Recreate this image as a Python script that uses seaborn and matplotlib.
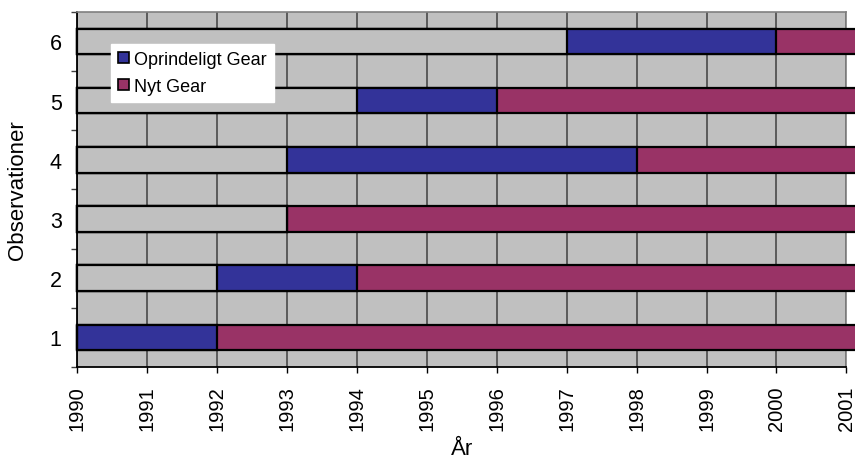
import matplotlib
matplotlib.use("Agg")
import matplotlib.pyplot as plt
import matplotlib.ticker as mticker
from matplotlib.patches import Patch
import seaborn as sns
import pandas as pd

# data
observations = ["1", "2", "3", "4", "5", "6"]
start_year = [1990, 1992, 1993, 1993, 1994, 1997]   # first year observed
gear_change = [1992, 1994, 1993, 1998, 1996, 2000]  # original gear replaced
end_year = [2002, 2002, 2002, 2002, 2002, 2002]     # runs off the right edge
year_ticks = list(range(1990, 2002))

BASE = 1990
BLUE = "#333399"
PURPLE = "#993366"
GREY = "#C0C0C0"

df = pd.DataFrame({
    "obs": observations,
    "start": [s - BASE for s in start_year],
    "change": [c - BASE for c in gear_change],
    "end": [e - BASE for e in end_year],
})

sns.set_theme(style="white")
plt.rcParams["font.family"] = ["Liberation Sans", "DejaVu Sans"]
plt.rcParams["text.color"] = "black"
plt.rcParams["axes.labelcolor"] = "black"
plt.rcParams["xtick.color"] = "black"
plt.rcParams["ytick.color"] = "black"

fig, ax = plt.subplots(figsize=(8.55, 4.6), dpi=100)
fig.subplots_adjust(left=0.09, right=0.99, top=0.972, bottom=0.2)
ax.set_facecolor(GREY)

order = observations[::-1]
bar_kw = dict(orient="h", order=order, width=0.43, edgecolor="black",
              linewidth=1.6, ax=ax, zorder=3)
# layer: new gear to the end, original gear on top, empty lead-in on top of that
sns.barplot(data=df, x="end", y="obs", color=PURPLE, saturation=1, **bar_kw)
sns.barplot(data=df, x="change", y="obs", color=BLUE, saturation=1, **bar_kw)
sns.barplot(data=df, x="start", y="obs", color=GREY, saturation=1, **bar_kw)
for p in ax.patches:
    p.set_clip_on(False)

ax.set_xlim(0, year_ticks[-1] - BASE)
ax.set_ylim(len(order) - 0.5, -0.5)

# x: years, vertical labels
ax.set_xticks([y - BASE for y in year_ticks])
ax.set_xticklabels([str(y) for y in year_ticks], rotation=90, fontsize=14.5)
ax.tick_params(axis="x", which="major", direction="out", length=4, width=1,
               color="black", pad=9, bottom=True)
ax.xaxis.grid(True, color="#404040", linewidth=1.1, zorder=1)
ax.set_axisbelow(True)

# y: ticks on category boundaries, labels centred
ax.yaxis.set_major_locator(mticker.FixedLocator([i + 0.5 for i in range(-1, len(order))]))
ax.yaxis.set_major_formatter(mticker.NullFormatter())
ax.yaxis.set_minor_locator(mticker.FixedLocator(range(len(order))))
ax.yaxis.set_minor_formatter(mticker.FixedFormatter(order))
ax.tick_params(axis="y", which="major", direction="out", length=4.5, width=1,
               color="#404040", left=True)
ax.tick_params(axis="y", which="minor", length=0, pad=11, labelsize=15.5)

for side in ["top", "right"]:
    ax.spines[side].set_color("#808080")
    ax.spines[side].set_linewidth(1.2)
for side in ["left", "bottom"]:
    ax.spines[side].set_color("black")
    ax.spines[side].set_linewidth(1.3)

ax.set_xlabel("År", fontsize=16)
ax.xaxis.set_label_coords(0.5, -0.2)
ax.set_ylabel("Observationer", fontsize=16)
ax.yaxis.set_label_coords(-0.063, 0.5)

handles = [Patch(facecolor=BLUE, edgecolor="black", linewidth=1.2, label="Oprindeligt Gear"),
           Patch(facecolor=PURPLE, edgecolor="black", linewidth=1.2, label="Nyt Gear")]
leg = ax.legend(handles=handles, loc="upper left", bbox_to_anchor=(0.044, 0.91),
                fontsize=13, frameon=True, fancybox=False, framealpha=1,
                handlelength=0.6, handleheight=0.6, handletextpad=0.3,
                borderpad=0.4, labelspacing=0.55, borderaxespad=0)
leg.get_frame().set_facecolor("white")
leg.get_frame().set_edgecolor("white")
leg.set_zorder(5)

plt.savefig("out.png", dpi=100)
plt.close()
